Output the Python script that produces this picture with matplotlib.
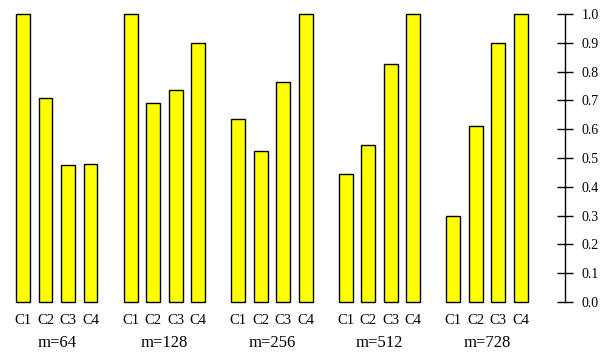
import numpy as np
import matplotlib
matplotlib.use("Agg")
import matplotlib.pyplot as plt

plt.rcParams['font.family'] = ['Liberation Serif', 'DejaVu Serif']

# normalised scores per configuration, one list per block size
m_labels = ['m=64', 'm=128', 'm=256', 'm=512', 'm=728']
categories = ['C1', 'C2', 'C3', 'C4']
m64 = [1.0, 0.71, 0.475, 0.48]
m128 = [1.0, 0.69, 0.735, 0.90]
m256 = [0.635, 0.525, 0.765, 1.0]
m512 = [0.445, 0.545, 0.825, 1.0]
m728 = [0.30, 0.61, 0.90, 1.0]
groups = [m64, m128, m256, m512, m728]
yticks = [0.0, 0.1, 0.2, 0.3, 0.4, 0.5, 0.6, 0.7, 0.8, 0.9, 1.0]

bar_step = 1.0
group_step = 4.78
bar_w = 0.62

fig = plt.figure(figsize=(6.15, 3.58), dpi=100)
ax = fig.add_axes([0, 0, 1, 1])
ax.set_xlim(-1.022, 26.31)
ax.set_ylim(-0.1944, 1.0486)

for g, vals in enumerate(groups):
    xs = g * group_step + np.arange(len(categories)) * bar_step
    ax.bar(xs, vals, width=bar_w, color='#ffff00', edgecolor='black',
           linewidth=1.0)
    for x, c in zip(xs, categories):
        ax.text(x, -0.0625, c, ha='center', va='center', fontsize=10.5)
    ax.text(xs.mean(), -0.1424, m_labels[g], ha='center', va='center',
            fontsize=12)

# free-standing value axis on the right
for s in ['left', 'top', 'bottom']:
    ax.spines[s].set_visible(False)
ax.spines['right'].set_position(('data', 24.09))
ax.spines['right'].set_bounds(0, 1)
ax.spines['right'].set_linewidth(1.0)
ax.yaxis.tick_right()
ax.set_yticks(yticks)
ax.set_yticklabels([f'{t:.1f}' for t in yticks])
ax.tick_params(axis='y', direction='inout', length=12, width=1.0, pad=6,
               labelsize=10)
ax.set_xticks([])

fig.savefig('out.png', dpi=100)
